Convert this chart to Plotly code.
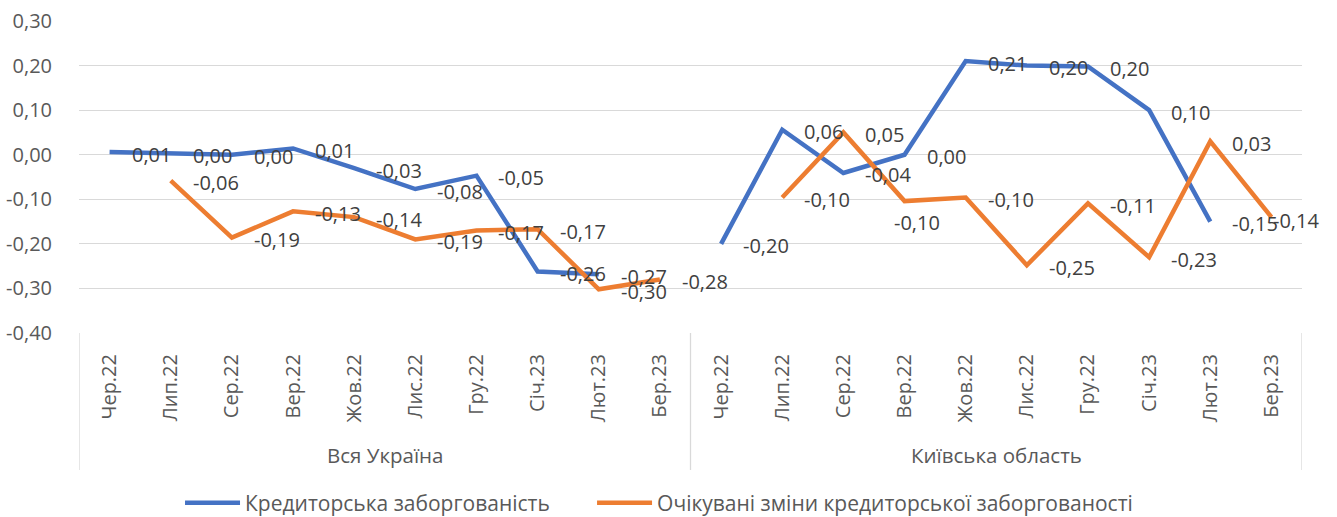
import plotly.graph_objects as go

months = ["Чер.22", "Лип.22", "Сер.22", "Вер.22", "Жов.22", "Лис.22", "Гру.22", "Січ.23", "Лют.23", "Бер.23"]
groups = ["Вся Україна", "Київська область"]
series_names = ["Кредиторська заборгованість", "Очікувані зміни кредиторської заборгованості"]

blue_ukraine = [0.006, 0.003, 0.000, 0.014, -0.030, -0.077, -0.047, -0.262, -0.268, None]
blue_kyiv = [-0.200, 0.056, -0.041, 0.000, 0.210, 0.200, 0.198, 0.100, -0.150, None]
orange_ukraine = [None, -0.058, -0.186, -0.127, -0.140, -0.190, -0.170, -0.167, -0.302, -0.280]
orange_kyiv = [None, -0.096, 0.050, -0.104, -0.096, -0.248, -0.109, -0.230, 0.030, -0.140]

y_ticks = [-0.40, -0.30, -0.20, -0.10, 0.00, 0.10, 0.20, 0.30]

FONT = "Open Sans"
BLUE = "#4472C4"
ORANGE = "#ED7D31"

n = len(months)
x_all = list(range(2 * n))
blue_all = blue_ukraine + blue_kyiv
orange_all = orange_ukraine + orange_kyiv


def fmt(v):
    return f"{v:.2f}".replace(".", ",")


fig = go.Figure()
fig.add_trace(go.Scatter(x=x_all, y=blue_all, mode="lines", name=series_names[0],
                         line=dict(color=BLUE, width=4.5), connectgaps=False, legend="legend"))
fig.add_trace(go.Scatter(x=x_all, y=orange_all, mode="lines", name=series_names[1],
                         line=dict(color=ORANGE, width=4.5), connectgaps=False, legend="legend2"))

annotations = []
# label placement overrides (series, index) -> (xanchor, xshift, yshift)
overrides = {("o", 13): ("center", 12, -21), ("o", 19): ("left", 0, -3)}
for key, vals in (("b", blue_all), ("o", orange_all)):
    for i, v in enumerate(vals):
        if v is None:
            continue
        xa, xs, ys = overrides.get((key, i), ("left", 20, -2))
        annotations.append(dict(x=i, y=v, xref="x", yref="y", text=fmt(v), showarrow=False,
                                xanchor=xa, yanchor="middle", xshift=xs, yshift=ys,
                                font=dict(family=FONT, size=20, color="#404040")))

for g, name in enumerate(groups):
    annotations.append(dict(x=g * n + (n - 1) / 2, y=-0.391, xref="x", yref="paper", text=name,
                            showarrow=False, xanchor="center", yanchor="middle",
                            font=dict(family=FONT, size=20.5, color="#595959")))

shapes = []
for xb in (-0.5, n - 0.5, 2 * n - 0.5):
    shapes.append(dict(type="line", xref="x", yref="paper", x0=xb, x1=xb, y0=0, y1=-0.439,
                       line=dict(color="#D9D9D9", width=1.3)))

legend_style = dict(orientation="h", y=-0.545, yanchor="middle", xanchor="left",
                    font=dict(family=FONT, size=21, color="#595959"), itemwidth=55,
                    bgcolor="rgba(0,0,0,0)")

fig.update_layout(
    width=1337, height=517,
    margin=dict(l=79, r=35, t=21, b=184, autoexpand=False),
    paper_bgcolor="white", plot_bgcolor="white",
    font=dict(family=FONT, color="#595959"),
    showlegend=True,
    legend=dict(x=0.0826, **legend_style),
    legend2=dict(x=0.4195, **legend_style),
    annotations=annotations,
    shapes=shapes,
)
fig.update_xaxes(range=[-0.5, 2 * n - 0.5], tickmode="array", tickvals=x_all, ticktext=months * 2,
                 tickangle=-90, tickfont=dict(family=FONT, size=20, color="#595959"),
                 showgrid=False, zeroline=False, showline=False, ticks="outside", ticklen=12,
                 tickcolor="rgba(0,0,0,0)", automargin=False)
fig.update_yaxes(range=[-0.40, 0.30], tickmode="array", tickvals=y_ticks,
                 ticktext=[fmt(t) for t in y_ticks], showgrid=True, gridcolor="#D9D9D9", gridwidth=1.3,
                 zeroline=False, showline=False, tickfont=dict(family=FONT, size=20, color="#595959"),
                 ticks="outside", ticklen=22, tickcolor="rgba(0,0,0,0)", automargin=False)

fig.write_html("out.html", config={"displayModeBar": False},
               post_script="document.body.style.margin='0';")
